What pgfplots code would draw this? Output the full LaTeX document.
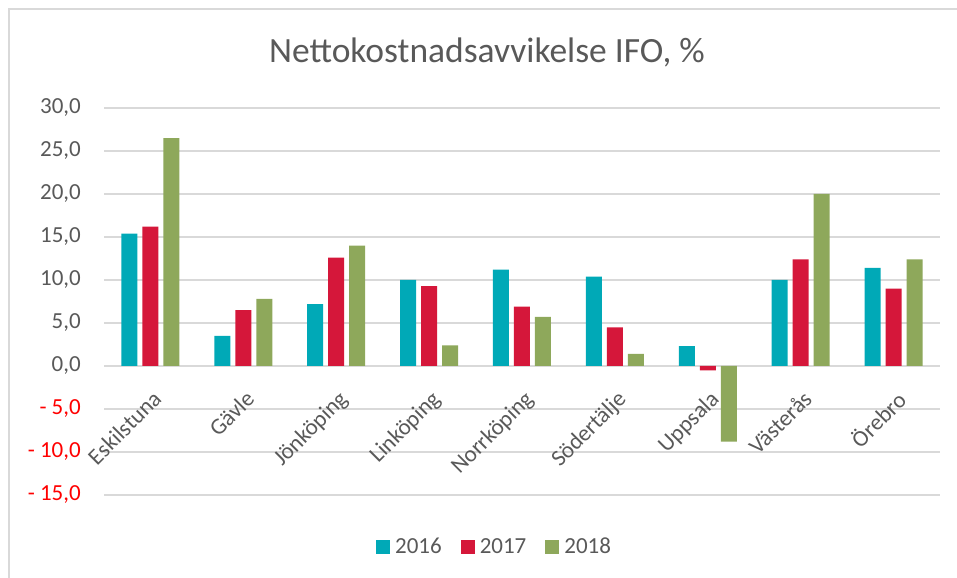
\documentclass[border=0pt]{standalone}
\usepackage{pgfplots}
\pgfplotsset{compat=1.18}
\usepackage{fontspec}
\setmainfont{Carlito}
\definecolor{c16}{HTML}{00A9B7}
\definecolor{c17}{HTML}{D5173A}
\definecolor{c18}{HTML}{8EA85B}
\definecolor{txt}{HTML}{595959}
\definecolor{grd}{HTML}{D9D9D9}
\begin{document}
\begin{tikzpicture}
\useasboundingbox (0bp,0bp) rectangle (957bp,578bp);
\draw[grd, line width=1.5bp] (9bp,-5bp) -- (9bp,569bp) -- (962bp,569bp);
\node[anchor=base, text=txt, font=\fontsize{35.5bp}{40bp}\selectfont, inner sep=0pt] at (487bp,515bp) {Nettokostnadsavvikelse IFO, \%};
\begin{axis}[
  at={(104bp,83bp)}, anchor=south west,
  width=836bp, height=387bp, scale only axis,
  xmin=-0.5, xmax=8.5, ymin=-15, ymax=30,
  ybar=5bp, bar width=16bp,
  axis x line*=middle, axis y line*=left, axis line style={draw=none},
  major tick length=0pt,
  hide obscured x ticks=false, hide obscured y ticks=false,
  ymajorgrids, grid style={grd, line width=1.3bp},
  ytick={-15,-10,...,30},
  yticklabels={{\textcolor{red}{- 15,0}},{\textcolor{red}{- 10,0}},{\textcolor{red}{- 5,0}},{0,0},{5,0},{10,0},{15,0},{20,0},{25,0},{30,0}},
  xtick={0,...,8},
  xticklabels={Eskilstuna,Gävle,Jönköping,Linköping,Norrköping,Södertälje,Uppsala,Västerås,Örebro},
  ticklabel style={font=\fontsize{23bp}{27bp}\selectfont, text=txt},
  yticklabel style={anchor=east, inner sep=0pt, xshift=-23bp},
  xticklabel style={anchor=north east, inner sep=0pt, xshift=1bp, yshift=-23bp, rotate=45},
  legend style={at={(0.466,-0.134)}, anchor=center, draw=none, fill=none, legend columns=3,
    font=\fontsize{23bp}{27bp}\selectfont, text=txt,
    /tikz/every odd column/.append style={column sep=5bp},
    /tikz/every even column/.append style={column sep=19bp},
    nodes={inner sep=0pt}},
  legend image code/.code={\fill[#1] (0bp,-7bp) rectangle (14bp,7bp);},
]
\addplot[fill=c16, draw=none] coordinates {(0,15.4) (1,3.5) (2,7.2) (3,10.0) (4,11.2) (5,10.4) (6,2.3) (7,10.0) (8,11.4)};
\addplot[fill=c17, draw=none] coordinates {(0,16.2) (1,6.5) (2,12.6) (3,9.3) (4,6.9) (5,4.5) (6,-0.5) (7,12.4) (8,9.0)};
\addplot[fill=c18, draw=none] coordinates {(0,26.5) (1,7.8) (2,14.0) (3,2.4) (4,5.7) (5,1.4) (6,-8.8) (7,20.0) (8,12.4)};
\legend{2016,2017,2018}
\end{axis}
\end{tikzpicture}
\end{document}
